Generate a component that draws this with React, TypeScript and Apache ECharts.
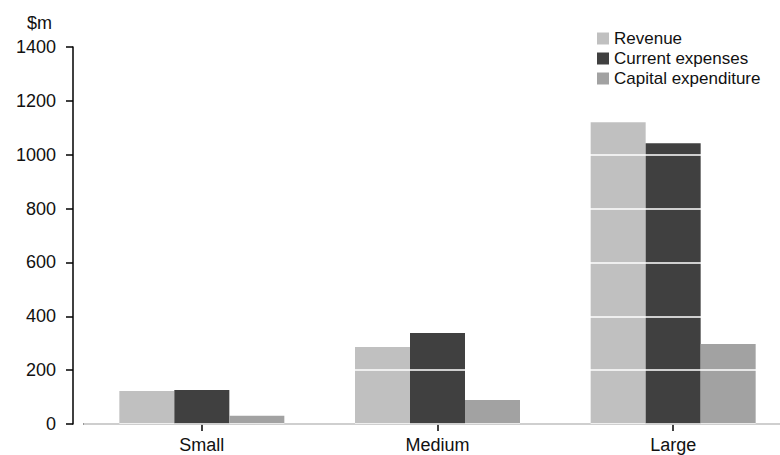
import React, { useEffect, useRef } from "react";
import * as echarts from "echarts";

const categories = ["Small", "Medium", "Large"];
const revenue = [123, 286, 1121];
const currentExpenses = [126, 338, 1043];
const capitalExpenditure = [31, 89, 297];
const seriesNames = ["Revenue", "Current expenses", "Capital expenditure"];
const yMin = 0;
const yMax = 1400;
const yInterval = 200;
const unitLabel = "$m";

const FONT = "'Liberation Sans', Arial, sans-serif";

export default function App() {
  const ref = useRef<HTMLDivElement>(null);
  useEffect(() => {
    if (!ref.current) return;
    const chart = echarts.init(ref.current, undefined, { renderer: "svg" });
    const barStyle = (color: string) => ({ color });
    chart.setOption({
      animation: false,
      backgroundColor: "#ffffff",
      textStyle: { fontFamily: FONT },
      grid: { left: 84, width: 707, top: 47, bottom: 31, containLabel: false },
      legend: {
        orient: "vertical",
        left: 597,
        top: 30,
        padding: 0,
        itemWidth: 12,
        itemHeight: 12,
        itemGap: 3,
        icon: "rect",
        textStyle: { fontSize: 17, color: "#111", fontFamily: FONT },
        data: seriesNames,
      },
      graphic: [
        {
          type: "text",
          left: 27,
          top: 14,
          style: { text: unitLabel, fontSize: 18, fill: "#111", fontFamily: FONT },
        },
      ],
      xAxis: {
        type: "category",
        data: categories,
        axisLine: { show: true, lineStyle: { color: "#000", width: 1.5 } },
        axisTick: { show: true, alignWithLabel: true, length: 7, lineStyle: { color: "#000", width: 1.5 } },
        axisLabel: { color: "#111", fontSize: 18, margin: 12, fontFamily: FONT },
        splitLine: { show: false },
      },
      yAxis: {
        type: "value",
        min: yMin,
        max: yMax,
        interval: yInterval,
        offset: 11,
        z: 10,
        axisLine: { show: true, lineStyle: { color: "#000", width: 1.5 } },
        axisTick: { show: true, length: 7, lineStyle: { color: "#000", width: 1.5 } },
        axisLabel: {
          color: "#111",
          fontSize: 18,
          margin: 17,
          fontFamily: FONT,
          formatter: (v: number) => String(v),
        },
        splitLine: { show: true, lineStyle: { color: "#ffffff", width: 1.5 } },
      },
      series: [
        {
          name: seriesNames[0],
          type: "bar",
          data: revenue,
          barWidth: 55,
          barGap: "0%",
          itemStyle: barStyle("#c0c0c0"),
        },
        {
          name: seriesNames[1],
          type: "bar",
          data: currentExpenses,
          barWidth: 55,
          barGap: "0%",
          itemStyle: barStyle("#404040"),
        },
        {
          name: seriesNames[2],
          type: "bar",
          data: capitalExpenditure,
          barWidth: 55,
          barGap: "0%",
          itemStyle: barStyle("#a2a2a2"),
        },
      ],
    });
    return () => chart.dispose();
  }, []);
  return (
    <div style={{ position: "absolute", left: 0, top: 0, width: 780, height: 455, overflow: "hidden" }}>
      <div ref={ref} style={{ width: 800, height: 455 }} />
    </div>
  );
}
